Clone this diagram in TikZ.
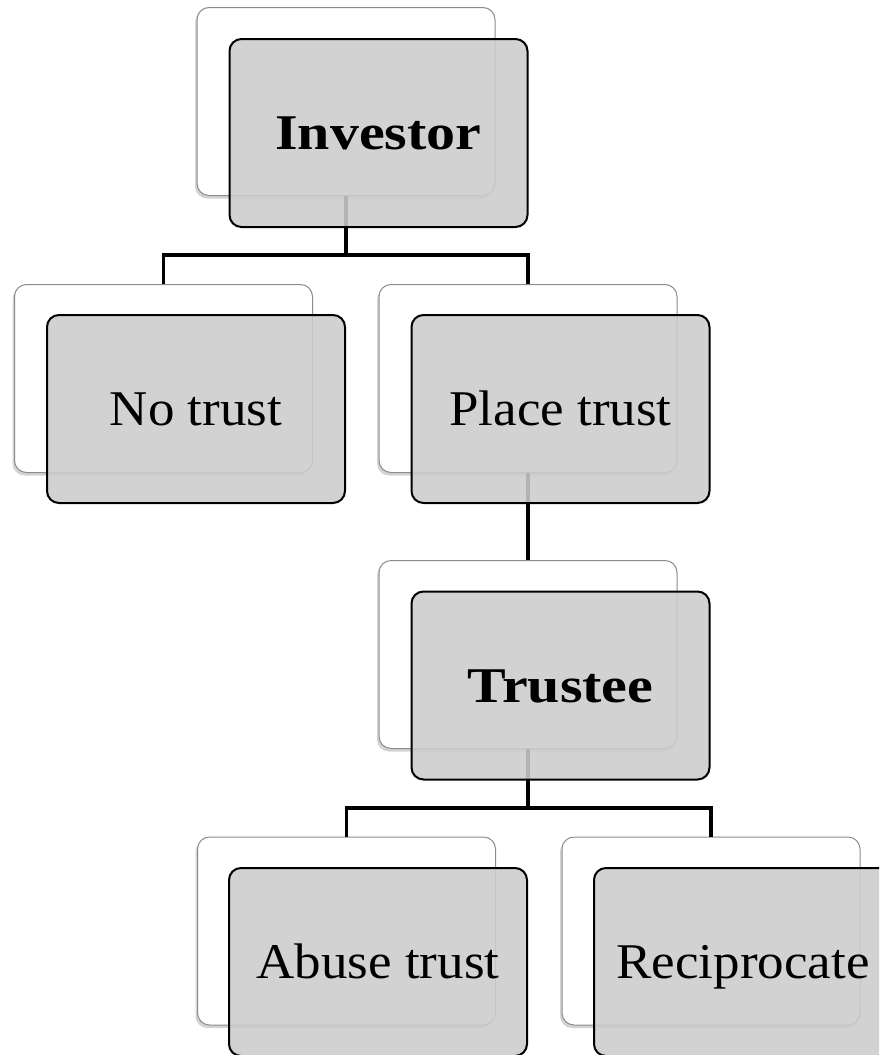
\documentclass[tikz,border=0pt]{standalone}
\usepackage{fontspec}
\setmainfont[FakeStretch=1.06]{Liberation Serif}
\newfontfamily\boldfnt[FakeStretch=1.16]{Liberation Serif}
\usetikzlibrary{shadows}
\begin{document}
\begin{tikzpicture}[x=1pt,y=-1pt,
  backbox/.style={draw=black!45, line width=1pt, fill=white, rounded corners=12pt,
    minimum width=298pt, minimum height=188pt, inner sep=0pt,
    drop shadow={shadow xshift=-2pt, shadow yshift=-3pt, opacity=0.35}},
  frontbox/.style={draw=black, line width=2pt, fill=black!20, fill opacity=0.88,
    text opacity=1, rounded corners=12pt, minimum width=298pt, minimum height=188pt,
    inner sep=0pt, text height=33.1pt, text depth=0pt,
    font=\fontsize{50}{60}\selectfont},
  link/.style={line width=3.5pt, draw=black}]
\useasboundingbox (0,0) rectangle (879,1055);
\clip (0,0) rectangle (879,1055);

% back boxes
\node[backbox] (invB) at (346,101.5) {};
\node[backbox] (noB)  at (163.5,378.5) {};
\node[backbox] (plB)  at (528,378.5) {};
\node[backbox] (trB)  at (528,654.5) {};
\node[backbox] (abB)  at (346.5,931) {};
\node[backbox] (reB)  at (711,931) {};

% connectors
\coordinate (j1) at (346,255);
\coordinate (j2) at (528,808);
\draw[link] (invB.south) -- (j1);
\draw[link] (j1) -| (noB.north);
\draw[link] (j1) -| (plB.north);
\draw[link] (plB.south) -- (trB.north);
\draw[link] (trB.south) -- (j2);
\draw[link] (j2) -| (abB.north);
\draw[link] (j2) -| (reB.north);

% front boxes
\node[frontbox] (inv) at (378.5,133) {\boldfnt\bfseries Investor};
\node[frontbox] (no)  at (196,409) {No trust};
\node[frontbox] (pl)  at (560.5,409) {Place trust};
\node[frontbox] (tr)  at (560.5,685.5) {\boldfnt\bfseries Trustee};
\node[frontbox] (ab)  at (378,962) {Abuse trust};
\node[frontbox] (re)  at (743,962) {Reciprocate};
\end{tikzpicture}
\end{document}
